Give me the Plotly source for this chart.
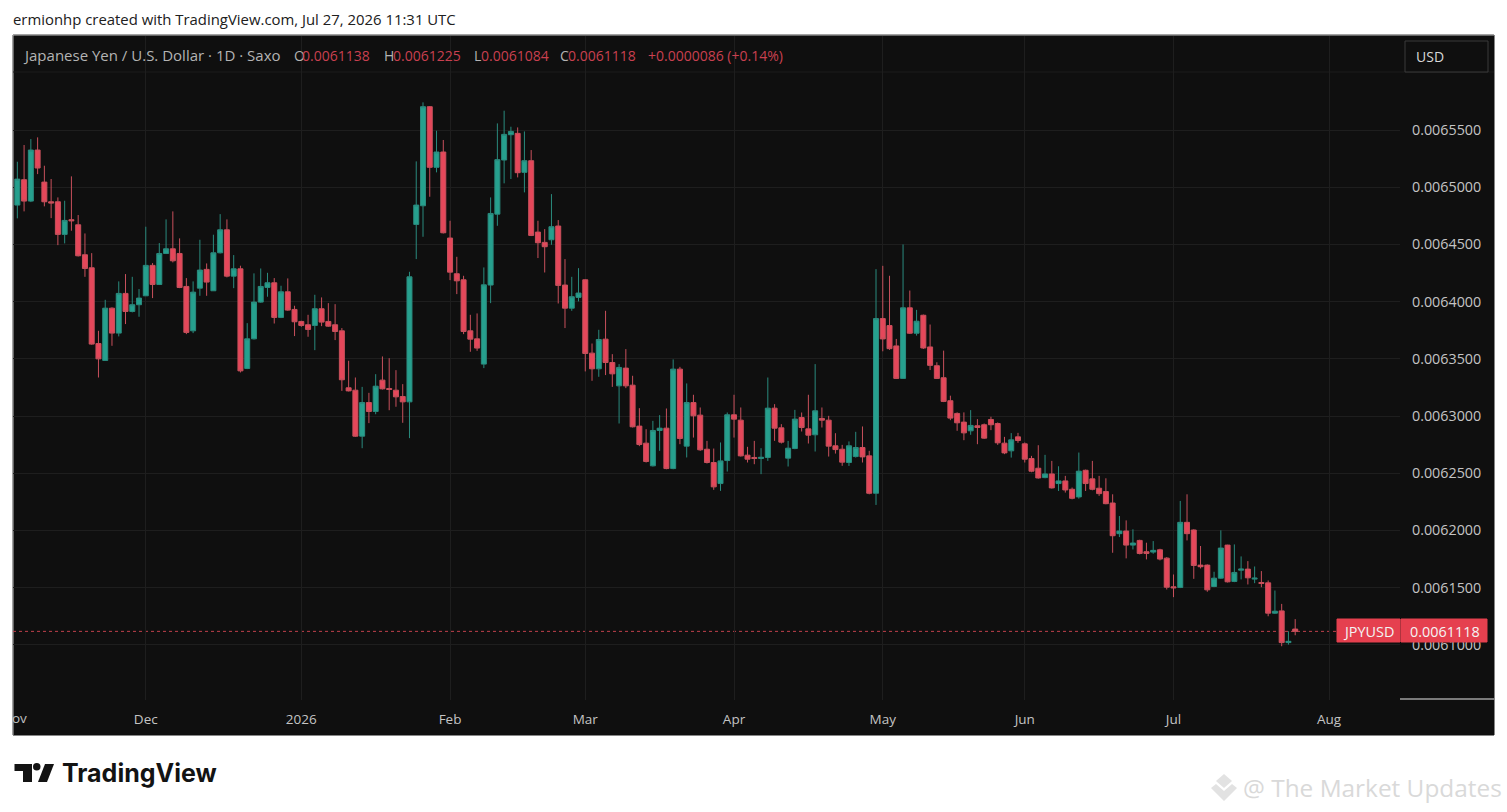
import numpy as np
import plotly.graph_objects as go

# Daily JPY/USD bars, prices in units of 0.0000001
opens = [
    64844, 65066, 64879, 65325, 65045, 64873, 64873, 64588, 64716, 64672,
    64410, 64296, 63634, 63486, 63943, 63725, 64072, 63914, 63973, 64051,
    64317, 64150, 64421, 64462, 64421, 64133, 63745, 64118, 64282, 64095,
    64427, 64628, 64223, 64287, 63416, 63675, 63996, 64124, 64165, 63862,
    64086, 63932, 63827, 63798, 63792, 63938, 63827, 63798, 63745, 63247,
    63226, 62824, 63118, 63040, 63314, 63241, 63226, 63171, 63124, 64675,
    64838, 65704, 65174, 65308, 64556, 64244, 64191, 63745, 63675, 63454,
    64145, 64765, 65238, 65459, 65471, 65130, 65232, 64608, 64518, 64541,
    64661, 64145, 63943, 64037, 64191, 63550, 63413, 63672, 63468, 63264,
    63419, 63270, 62912, 62763, 62565, 62874, 62894, 62541, 63410, 62737,
    63118, 63008, 62710, 62594, 62410, 62611, 63011, 62964, 62658, 62638,
    62629, 62638, 63069, 62897, 62632, 62716, 62987, 62888, 62836, 62979,
    62964, 62740, 62710, 62594, 62646, 62725, 62652, 62325, 63852, 63791,
    63613, 63329, 63946, 63724, 63881, 63604, 63440, 63335, 63134, 63023,
    62947, 62871, 62915, 62924, 62970, 62935, 62763, 62696, 62818, 62757,
    62629, 62544, 62462, 62494, 62410, 62433, 62360, 62293, 62526, 62451,
    62369, 62340, 62240, 61972, 61995, 61872, 61913, 61814, 61811, 61831,
    61758, 61507, 61502, 62071, 62004, 61697, 61697, 61510, 61583, 61872,
    61554, 61653, 61662, 61575, 61545, 61542, 61277, 61297, 61020, 61138,
]
highs = [
    65223, 65369, 65421, 65436, 65188, 65072, 64911, 64882, 65095, 64757,
    64596, 64424, 63745, 64016, 63950, 64177, 64241, 64217, 64110, 64655,
    64337, 64512, 64719, 64789, 64553, 64206, 64177, 64541, 64334, 64585,
    64765, 64719, 64407, 64314, 63812, 64247, 64290, 64252, 64206, 64139,
    64203, 63964, 63833, 63885, 64060, 64037, 63987, 63978, 63769, 63483,
    63337, 63255, 63203, 63366, 63521, 63506, 63401, 63279, 64261, 65226,
    65742, 65710, 65494, 65413, 64707, 64392, 64226, 63885, 63897, 64299,
    64911, 65558, 65669, 65529, 65523, 65488, 65325, 64707, 64634, 64940,
    64713, 64372, 64217, 64293, 64195, 63634, 63754, 63920, 63541, 63454,
    63585, 63352, 63069, 62885, 62958, 63008, 63066, 63495, 63430, 63285,
    63186, 63075, 62783, 62716, 62769, 63031, 63186, 63075, 62731, 62783,
    62719, 63337, 63104, 62929, 62783, 63054, 63031, 63186, 63454, 63075,
    63002, 62850, 62748, 62778, 62862, 62909, 62696, 64284, 64313, 64226,
    63674, 64500, 64097, 63928, 63887, 63800, 63470, 63572, 63178, 63032,
    63032, 63052, 62973, 62935, 62994, 62944, 62818, 62851, 62853, 62769,
    62652, 62745, 62661, 62608, 62561, 62477, 62375, 62681, 62532, 62608,
    62477, 62456, 62316, 62126, 62088, 62010, 61919, 61893, 61907, 61840,
    61767, 61615, 62258, 62316, 62010, 61864, 61703, 61639, 62001, 61875,
    61878, 61773, 61732, 61685, 61645, 61563, 61475, 61358, 61119, 61225,
]
lows = [
    64728, 64789, 64870, 65115, 64833, 64730, 64494, 64509, 64620, 64395,
    64217, 63623, 63337, 63486, 63614, 63696, 63804, 63906, 63868, 64051,
    64031, 64145, 64416, 64343, 64118, 63716, 63725, 64051, 64051, 64095,
    64421, 64212, 64118, 63381, 63410, 63669, 63990, 64043, 63809, 63856,
    63920, 63699, 63780, 63693, 63576, 63786, 63780, 63664, 63220, 63215,
    62818, 62719, 62938, 63016, 63232, 63051, 63081, 62941, 62807, 64372,
    64567, 64917, 65130, 64596, 64188, 64066, 63716, 63562, 63570, 63419,
    63987, 64663, 65034, 65072, 65086, 64955, 64573, 64381, 64255, 64497,
    63984, 63769, 63920, 64002, 63390, 63308, 63343, 63358, 63255, 62935,
    63244, 62900, 62737, 62594, 62559, 62696, 62535, 62535, 62754, 62638,
    62812, 62696, 62585, 62355, 62346, 62515, 62812, 62646, 62594, 62579,
    62492, 62608, 62783, 62760, 62559, 62710, 62865, 62760, 62690, 62900,
    62646, 62672, 62565, 62564, 62637, 62594, 62316, 62223, 63566, 63578,
    63324, 63324, 63718, 63703, 63586, 63402, 63324, 63122, 62964, 62871,
    62789, 62836, 62754, 62801, 62877, 62748, 62667, 62637, 62766, 62594,
    62509, 62453, 62456, 62366, 62345, 62331, 62272, 62278, 62345, 62351,
    62302, 62229, 61805, 61942, 61756, 61834, 61791, 61747, 61796, 61738,
    61484, 61417, 61496, 61913, 61577, 61668, 61464, 61504, 61577, 61545,
    61548, 61572, 61528, 61539, 61504, 61250, 61271, 60988, 61002, 61084,
]
closes = [
    65071, 64879, 65325, 65168, 64873, 64862, 64588, 64710, 64707, 64401,
    64290, 63629, 63500, 63943, 63725, 64072, 63914, 63973, 64031, 64317,
    64150, 64421, 64462, 64357, 64124, 63731, 64083, 64276, 64171, 64427,
    64628, 64223, 64287, 63395, 63675, 63996, 64133, 64165, 63862, 64086,
    63926, 63824, 63792, 63757, 63938, 63821, 63786, 63739, 63317, 63220,
    62824, 63118, 63040, 63261, 63238, 63232, 63168, 63124, 64217, 64844,
    65704, 65174, 65308, 64602, 64258, 64182, 63739, 63672, 63594, 64147,
    64771, 65241, 65462, 65488, 65127, 65232, 64579, 64515, 64480, 64655,
    64142, 63943, 64043, 64075, 63547, 63413, 63669, 63468, 63369, 63425,
    63264, 62906, 62751, 62603, 62874, 62894, 62541, 63410, 62804, 63118,
    63002, 62705, 62594, 62381, 62608, 63011, 62973, 62652, 62623, 62629,
    62640, 63069, 62894, 62772, 62719, 62973, 62900, 62833, 63046, 62964,
    62737, 62707, 62597, 62740, 62725, 62643, 62325, 63852, 63674, 63589,
    63329, 63946, 63724, 63829, 63595, 63443, 63329, 63128, 62982, 62941,
    62853, 62918, 62900, 62807, 62924, 62766, 62678, 62792, 62786, 62623,
    62518, 62459, 62494, 62372, 62433, 62354, 62281, 62518, 62410, 62360,
    62322, 62234, 61954, 61995, 61872, 61890, 61799, 61799, 61826, 61750,
    61504, 61499, 62071, 61972, 61694, 61683, 61481, 61583, 61846, 61551,
    61633, 61662, 61586, 61583, 61537, 61277, 61294, 61020, 61031, 61118,
]
assert len(opens) == len(highs) == len(lows) == len(closes) == 190

month_bars = [19, 42, 64, 84, 106, 128, 149, 171, 194]
month_labels = ["Dec", "2026", "Feb", "Mar", "Apr", "May", "Jun", "Jul", "Aug"]
price_ticks = [0.0061, 0.00615, 0.0062, 0.00625, 0.0063, 0.00635, 0.0064, 0.00645, 0.0065, 0.00655]

UNIT = 1e-7
GREEN = "#26a08e"
RED = "#e5475a"
TEXT_RED = "#c9404f"
FONT = "Open Sans"

# plot area inside the page, everything else is placed relative to it
LEFT, RIGHT, TOP, BOTTOM = 13, 1400, 36, 700


def px(x):
    return (x - LEFT) / (RIGHT - LEFT)


def py(y):
    return (BOTTOM - y) / (BOTTOM - TOP)


def rect(x0, y0, x1, y1, fill, line=None, layer="below", width=1):
    return dict(type="rect", xref="paper", yref="paper", x0=px(x0), x1=px(x1), y0=py(y0), y1=py(y1),
                fillcolor=fill, line=dict(color=line or fill, width=width), layer=layer)


def poly(points, fill):
    path = "M " + " L ".join(f"{px(x)} {py(y)}" for x, y in points) + " Z"
    return dict(type="path", xref="paper", yref="paper", path=path, fillcolor=fill, line=dict(width=0), layer="above")


def label(x, y, text, color, size, anchor="left", family=FONT):
    return dict(xref="paper", yref="paper", x=px(x), y=py(y), text=text, showarrow=False, xanchor=anchor,
                yanchor="middle", font=dict(color=color, size=size, family=family))


fig = go.Figure(go.Candlestick(
    x=list(range(len(opens))),
    open=np.array(opens) * UNIT,
    high=np.array(highs) * UNIT,
    low=np.array(lows) * UNIT,
    close=np.array(closes) * UNIT,
    increasing=dict(line=dict(color="#2a8b7e", width=1), fillcolor=GREEN),
    decreasing=dict(line=dict(color="#c8505c", width=1), fillcolor=RED),
    whiskerwidth=0,
))

shapes = [
    rect(13, 35, 1494, 735, "#0f0f0f", layer="below"),
    dict(type="line", xref="paper", yref="paper", x0=px(13), x1=px(13), y0=py(35), y1=py(735),
         line=dict(color="#bdbdbd", width=1), layer="below"),
    dict(type="line", xref="paper", yref="paper", x0=px(13), x1=px(1494), y0=py(35), y1=py(35),
         line=dict(color="#bdbdbd", width=1), layer="below"),
    dict(type="line", xref="paper", yref="paper", x0=px(13), x1=px(1494), y0=py(72), y1=py(72),
         line=dict(color="#1c1c1c", width=1), layer="below"),
    dict(type="line", xref="paper", yref="paper", x0=px(1400), x1=px(1494), y0=py(699), y1=py(699),
         line=dict(color="#e8e8e8", width=1), layer="above"),
    # last price line
    dict(type="line", xref="paper", yref="y", x0=px(13), x1=px(1337), y0=closes[-1] * UNIT, y1=closes[-1] * UNIT,
         line=dict(color="#c0404c", width=1, dash="dot"), layer="below"),
    # USD button and the price tag
    rect(1405, 41, 1488, 72, "#0f0f0f", line="#3a3a3a", layer="above"),
    rect(1337, 619, 1400, 642, "#e5404f", layer="above"),
    rect(1401, 619, 1487, 642, "#e5404f", layer="above"),
    # TradingView mark
    poly([(14.5, 764), (32, 764), (32, 782), (23, 782), (23, 771), (14.5, 771)], "#131313"),
    poly([(45, 764), (54, 764), (47, 782), (38, 782)], "#131313"),
    dict(type="circle", xref="paper", yref="paper", x0=px(33), x1=px(40.5), y0=py(763), y1=py(770.5),
         fillcolor="#131313", line=dict(width=0), layer="above"),
    # watermark mark
    poly([(1224, 774), (1232, 781), (1224, 788), (1216, 781)], "#e2e2e2"),
    poly([(1216, 784), (1224, 791), (1232, 784), (1237, 788), (1224, 801), (1211, 788)], "#e2e2e2"),
]

annotations = [
    label(11, 19, "ermionhp created with TradingView.com, Jul 27, 2026 11:31 UTC", "#202020", 14.9),
    label(21, 55, "Japanese Yen / U.S. Dollar · 1D · Saxo", "#b4b4b4", 15),
    label(292, 55, "O", "#b4b4b4", 14),
    label(300, 55, "0.0061138", TEXT_RED, 14),
    label(382, 55, "H", "#b4b4b4", 14),
    label(391, 55, "0.0061225", TEXT_RED, 14),
    label(472, 55, "L", "#b4b4b4", 14),
    label(479, 55, "0.0061084", TEXT_RED, 14),
    label(558, 55, "C", "#b4b4b4", 14),
    label(566, 55, "0.0061118", TEXT_RED, 14),
    label(646, 55, "+0.0000086 (+0.14%)", TEXT_RED, 14),
    label(1430, 56, "USD", "#d8d8d8", 14, "center"),
    label(1368, 631, "JPYUSD", "#f4f4f4", 14.4, "center"),
    label(1445, 631, "0.0061118", "#f4f4f4", 14.4, "center"),
    label(10, 718, "ov", "#c0c0c0", 13.5),
    label(60, 773, "<b>TradingView</b>", "#131313", 25, family="Inter"),
    label(1241, 787, "@ The Market Updates", "#d9d9d9", 24.4),
]

fig.update_layout(
    width=1507,
    height=812,
    margin=dict(l=LEFT, r=1507 - RIGHT, t=TOP, b=812 - BOTTOM, autoexpand=False),
    paper_bgcolor="white",
    plot_bgcolor="rgba(0,0,0,0)",
    showlegend=False,
    boxgap=0.26,
    boxgroupgap=0,
    shapes=shapes,
    annotations=annotations,
    font=dict(family=FONT, color="#c4c4c4", size=13),
    xaxis=dict(range=[-0.64, 204.5], tickvals=month_bars, ticktext=month_labels, ticks="", showline=False,
               zeroline=False, showgrid=True, gridcolor="#1e1e1e", gridwidth=1,
               rangeslider=dict(visible=False), ticklabelstandoff=9, tickfont=dict(size=13.5)),
    yaxis=dict(range=[0.0060518, 0.0066322], side="right", tickvals=price_ticks, tickformat=".7f", ticks="",
               showline=False, zeroline=False, showgrid=True, gridcolor="#1e1e1e", gridwidth=1,
               ticklabelstandoff=11, tickfont=dict(size=14.3)),
)

fig.write_html("out.html", config=dict(displayModeBar=False), post_script="document.body.style.margin='0';")
